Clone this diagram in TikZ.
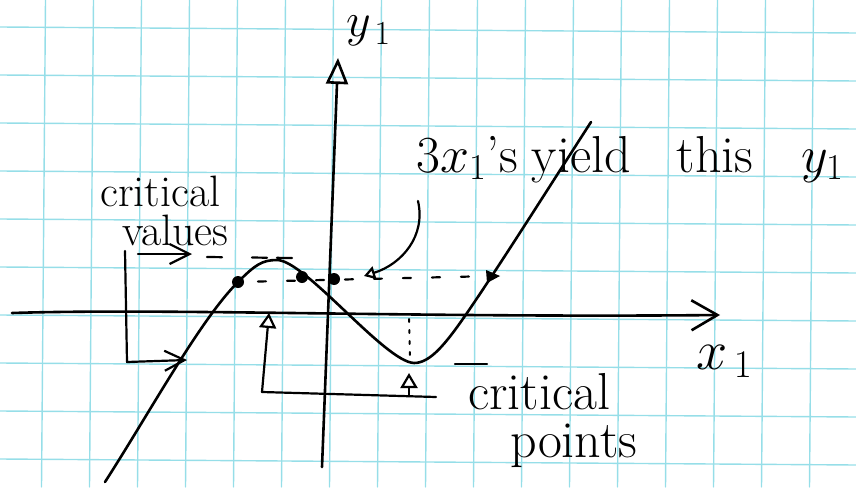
\documentclass[tikz,border=0pt]{standalone}
\usepackage{fix-cm}
\usetikzlibrary{arrows.meta}
\definecolor{gridcyan}{RGB}{150,222,232}
\begin{document}
\begin{tikzpicture}[x=1pt, y=-1pt, line cap=round, line join=round,
  gridline/.style={gridcyan, line width=1.4pt},
  pen/.style={line width=2.6pt},
  thinpen/.style={line width=2.2pt},
  hand/.style={inner sep=0pt, font=\fontsize{#1}{#1}\selectfont},
  barb/.style={-{Straight Barb[length=20pt, width=20pt]}},
  tri/.style={-{Triangle[open, length=15pt, width=17pt]}}]
\useasboundingbox (0,0) rectangle (856,487);
% grid paper
\foreach \k in {0,...,16} \draw[gridline] (45.5+48*\k,0) -- (41.5+48*\k,487);
\foreach \k in {0,...,9}  \draw[gridline] (0,27+48*\k) -- (856,33+48*\k);
% axes
\coordinate (XL) at (12,313);
\coordinate (XR) at (720,315);
\coordinate (YB) at (322,467);
\coordinate (YT) at (338,58);
\draw[pen, -{Straight Barb[length=26pt, width=30pt]}] (XL) .. controls (170,308) and (420,318) .. (XR);
\draw[pen, -{Triangle[open, length=26pt, width=22pt]}] (YB) -- (YT);
\node[hand=48, anchor=base west] (ylbl) at (346,37) {$y_{\,1}$};
\node[hand=56, anchor=base west] (xlbl) at (696,369) {$x_{\,1}$};
% points where the curve meets the level line
\coordinate (P1) at (238,282);
\coordinate (P2) at (302,277);
\coordinate (P3) at (334,279);
\coordinate (Q)  at (493,276);
% the curve
\coordinate (Cmax) at (277,260);
\coordinate (Cmin) at (414,363);
\draw[pen] (105,482) .. controls (150,412) and (200,320) .. (P1)
  .. controls (255,265) and (262,260) .. (Cmax)
  .. controls (305,260) and (385,362) .. (Cmin)
  .. controls (430,363) and (445,345) .. (467,313)
  .. controls (500,265) and (560,170) .. (591,122);
% level lines (dashed)
\draw[thinpen, dash pattern=on 8pt off 21pt, dash phase=9pt] (P1) -- (Q);
\draw[thinpen, dash pattern=on 15pt off 30pt on 15pt off 10pt] (207,257) -- (292,258);
\draw[thinpen] (455,364) -- (487,364);
\draw[line width=2pt, dash pattern=on 3pt off 8pt] (409,319) -- (410,356);
% dots
\fill (P1) circle (6pt);
\fill (P2) circle (6pt);
\fill (P3) circle (6pt);
\fill (Q) ++(-7,-6) -- ++(14,6) -- ++(-13,7) -- cycle;
% label: three x values
\node[hand=52, anchor=base west] (yield) at (416,172)
  {3$x_1$'s\hspace{14pt}yield\hspace{46pt}this\hspace{48pt}$y_1$};
\coordinate (Ystart) at (418,201);
\coordinate (Yend) at (364,276);
\draw[thinpen, -{Triangle[open, length=11pt, width=13pt]}] (Ystart) .. controls (426,236) and (402,264) .. (Yend);
% critical values
\node[hand=44, anchor=north west, align=left] (cvals) at (100,176)
  {critical\\[-5pt]\hspace*{22pt}values};
\coordinate (CVtop) at (125,251);
\coordinate (CVcorner) at (127,362);
\coordinate (CVend) at (187,360);
\draw[thinpen, barb] (CVtop) -- (CVcorner) -- (CVend);
\draw[thinpen, barb] (138,254) -- (192,254);
% critical points
\node[hand=52, anchor=north west, align=left] (cpts) at (468,373)
  {critical\\[-4pt]\hspace*{42pt}points};
\coordinate (CPa) at (269,313);
\coordinate (CPcorner) at (262,392);
\coordinate (CPend) at (436,397);
\coordinate (CPb) at (409,373);
\draw[thinpen, tri] (CPcorner) -- (CPa);
\draw[thinpen] (CPcorner) -- (CPend);
\draw[thinpen, tri] (409,396) -- (CPb);
\end{tikzpicture}
\end{document}
